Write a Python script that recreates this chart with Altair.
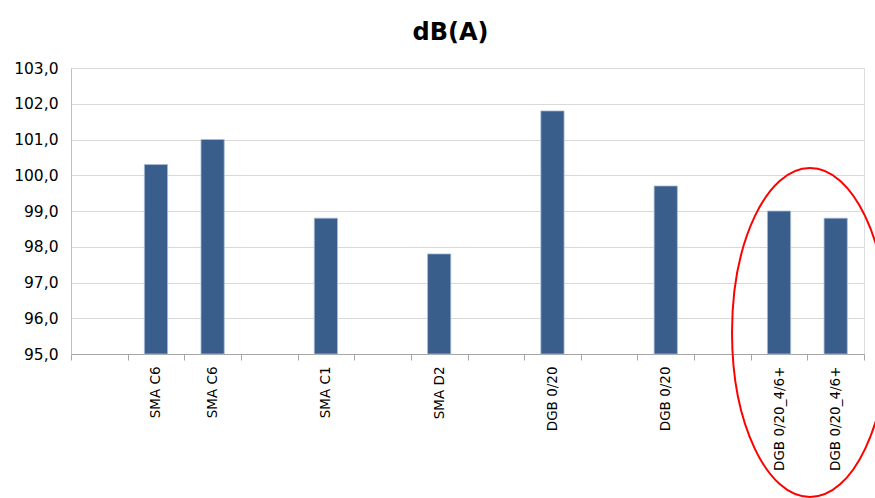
import altair as alt
import pandas as pd

# Category slots along the x axis (empty strings are spacer slots)
labels = ["", "SMA C6", "SMA C6", "", "SMA C1", "", "SMA D2", "", "DGB 0/20", "",
          "DGB 0/20", "", "DGB 0/20_4/6+", "DGB 0/20_4/6+"]
# Sound level per slot, dB(A); None for spacer slots
values = [None, 100.3, 101.0, None, 98.8, None, 97.8, None, 101.8, None,
          99.7, None, 99.0, 98.8]
y_ticks = [95, 96, 97, 98, 99, 100, 101, 102, 103]

slots = list(range(len(labels)))
df = pd.DataFrame({"slot": slots, "label": labels, "db": values}).dropna()

label_lookup = "[" + ",".join('"%s"' % s for s in labels) + "][datum.value]"

x_enc = alt.X(
    "slot:O",
    scale=alt.Scale(domain=slots, paddingInner=0, paddingOuter=0),
    axis=alt.Axis(
        title=None,
        labelExpr=label_lookup,
        labelAngle=-90,
        labelFont="DejaVu Sans",
        labelFontSize=13.5,
        labelColor="#000000",
        labelPadding=6,
        tickBand="extent",
        tickSize=6,
        tickColor="#a6a6a6",
        domainColor="#a6a6a6",
        grid=False,
    ),
)

y_enc = alt.Y(
    "db:Q",
    scale=alt.Scale(domain=[95, 103], zero=False, nice=False),
    axis=alt.Axis(
        title=None,
        values=y_ticks,
        labelExpr="replace(format(datum.value, '.1f'), '.', ',')",
        labelFont="DejaVu Sans",
        labelFontSize=15.5,
        labelColor="#000000",
        labelPadding=13,
        ticks=False,
        domainColor="#bfbfbf",
        gridColor="#d9d9d9",
        gridWidth=1,
    ),
)

bars = alt.Chart(df).mark_bar(
    width=alt.RelativeBandSize(0.41),
    color="#3a5e8c",
    stroke="#a9bcd6",
    strokeWidth=0.8,
).encode(x=x_enc, y=y_enc, y2=alt.datum(95))

# Red ellipse highlighting the last pair of bars
ellipse_path = "M -0.474 0 A 0.474 1 0 1 0 0.474 0 A 0.474 1 0 1 0 -0.474 0"
ellipse = alt.Chart(pd.DataFrame({"k": [0]})).mark_point(
    shape=ellipse_path,
    filled=False,
    stroke="#ff0000",
    strokeWidth=2,
    opacity=1,
    clip=False,
).encode(
    x=alt.value(739),
    y=alt.value(264.5),
    size=alt.value(108241),
)

chart = alt.layer(bars, ellipse).properties(
    width=793,
    height=286,
    title=alt.TitleParams(
        "dB(A)",
        font="DejaVu Sans",
        fontSize=24,
        fontWeight="bold",
        color="#000000",
        anchor="middle",
        dx=-17,
        offset=16,
    ),
    autosize=alt.AutoSizeParams(type="none"),
    padding={"left": 71, "top": 68, "right": 11, "bottom": 144},
).configure_view(stroke=None).configure(background="#ffffff")

chart.save("out.html", embed_options={"renderer": "svg", "actions": False})
